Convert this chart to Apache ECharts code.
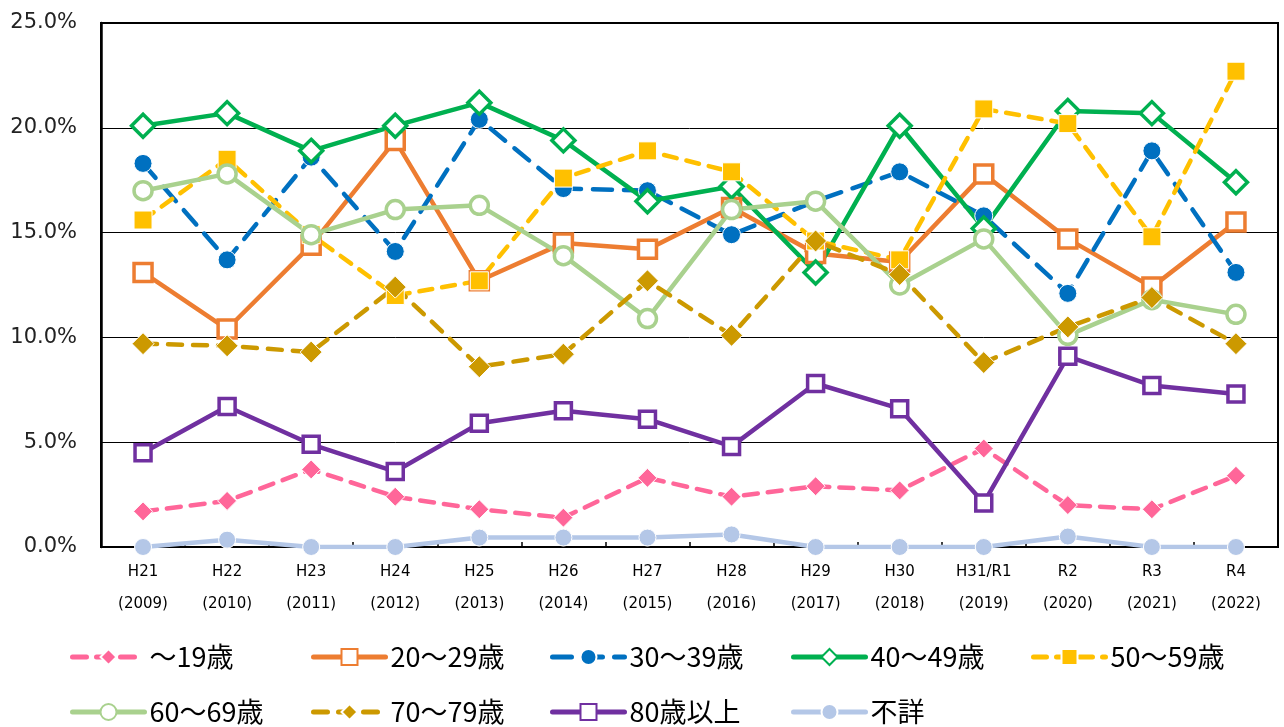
<!DOCTYPE html>
<html>
<head>
<meta charset="utf-8">
<script src="https://cdn.jsdelivr.net/npm/echarts@6/dist/echarts.min.js"></script>
<style>
html,body{margin:0;padding:0;background:#fff;}
#chart{width:1284px;height:727px;}
</style>
</head>
<body>
<div id="chart"></div>
<script>
const categories = ['H21','H22','H23','H24','H25','H26','H27','H28','H29','H30','H31/R1','R2','R3','R4'];
const years = ['2009','2010','2011','2012','2013','2014','2015','2016','2017','2018','2019','2020','2021','2022'];
const seriesNames = ['～19歳','20～29歳','30～39歳','40～49歳','50～59歳','60～69歳','70～79歳','80歳以上','不詳'];

const age19 = [1.7,2.2,3.7,2.4,1.8,1.4,3.3,2.4,2.9,2.7,4.7,2.0,1.8,3.4];
const age20 = [13.1,10.4,14.4,19.4,12.7,14.5,14.2,16.2,14.0,13.6,17.8,14.7,12.4,15.5];
const age30 = [18.3,13.7,18.6,14.1,20.4,17.1,17.0,14.9,16.5,17.9,15.8,12.1,18.9,13.1];
const age40 = [20.1,20.7,18.9,20.1,21.2,19.4,16.5,17.2,13.1,20.1,15.2,20.8,20.7,17.4];
const age50 = [15.6,18.5,14.9,12.0,12.7,17.6,18.9,17.9,14.6,13.7,20.9,20.2,14.8,22.7];
const age60 = [17.0,17.8,14.9,16.1,16.3,13.9,10.9,16.1,16.5,12.5,14.7,10.1,11.8,11.1];
const age70 = [9.7,9.6,9.3,12.4,8.6,9.2,12.7,10.1,14.6,13.0,8.8,10.5,11.9,9.7];
const age80 = [4.5,6.7,4.9,3.6,5.9,6.5,6.1,4.8,7.8,6.6,2.1,9.1,7.7,7.3];
const unknown = [0,0.35,0,0,0.45,0.45,0.45,0.6,0,0,0,0.5,0,0];

const yTicks = [0,5,10,15,20,25];

const dataList = [age19,age20,age30,age40,age50,age60,age70,age80,unknown];
const styles = [
  {c:'#FF6699', sym:'diamond', size:19, empty:false, dash:[14,10]},
  {c:'#ED7D31', sym:'rect', size:18, empty:true, dash:'solid'},
  {c:'#0070C0', sym:'circle', size:18, empty:false, dash:[19,12]},
  {c:'#00B050', sym:'diamond', size:23, empty:true, dash:'solid'},
  {c:'#FFC000', sym:'rect', size:18, empty:false, dash:[13,10]},
  {c:'#A9D18E', sym:'circle', size:18, empty:true, dash:'solid'},
  {c:'#CC9900', sym:'diamond', size:22, empty:false, dash:[14,11]},
  {c:'#7030A0', sym:'rect', size:16, empty:true, dash:'solid'},
  {c:'#B4C7E7', sym:'circle', size:17, empty:false, dash:'solid'}
];

const series = seriesNames.map((n,i)=>{
  const s = styles[i];
  return {
    name:n, type:'line', data:dataList[i], color:s.c,
    symbol:s.sym, symbolSize:s.size, showAllSymbol:true,
    lineStyle:{color:s.c, width:4.5, type:s.dash, cap:'round'},
    itemStyle: s.empty ? {color:'#fff', borderColor:s.c, borderWidth:3.5}
                       : {color:s.c, borderColor:'#fff', borderWidth:1},
    emphasis:{disabled:true},
    animation:false
  };
});

const legendPos = [
  [70,640],[311,640],[550,640],[791,640],[1031,640],
  [70,695],[311,695],[550,695],[791,695]
];
const legends = seriesNames.map((n,i)=>({
  data:[n], left:legendPos[i][0], top:legendPos[i][1], padding:0,
  itemWidth:72, itemHeight:20, selectedMode:false,
  lineStyle:{width:5},
  textStyle:{fontFamily:'Noto Sans CJK JP', fontSize:27, color:'#000', lineHeight:34}
}));

const chart = echarts.init(document.getElementById('chart'), null, {renderer:'canvas'});
chart.setOption({
  backgroundColor:'#fff',
  animation:false,
  grid:{left:101, right:6, top:23, bottom:180, show:true, borderColor:'#000', borderWidth:2, backgroundColor:'transparent'},
  legend:legends,
  xAxis:{
    type:'category', data:categories, boundaryGap:true,
    axisLine:{lineStyle:{color:'#000', width:2}},
    axisTick:{show:true, inside:true, length:5, lineStyle:{color:'#000', width:1.5}},
    axisLabel:{
      interval:0, margin:9, fontFamily:'DejaVu Sans', fontSize:15, color:'#000', lineHeight:32,
      formatter:(v,idx)=> v + '\n(' + years[idx] + ')'
    }
  },
  yAxis:{
    type:'value', min:yTicks[0], max:yTicks[yTicks.length-1], interval:5,
    axisLine:{show:true, lineStyle:{color:'#000', width:2.5}},
    axisTick:{show:false},
    splitLine:{lineStyle:{color:'#000', width:1}},
    axisLabel:{margin:24, fontFamily:'DejaVu Sans', fontSize:21, color:'#222',
      formatter:v=>v.toFixed(1)+'%'}
  },
  series:series
});
</script>
</body>
</html>
